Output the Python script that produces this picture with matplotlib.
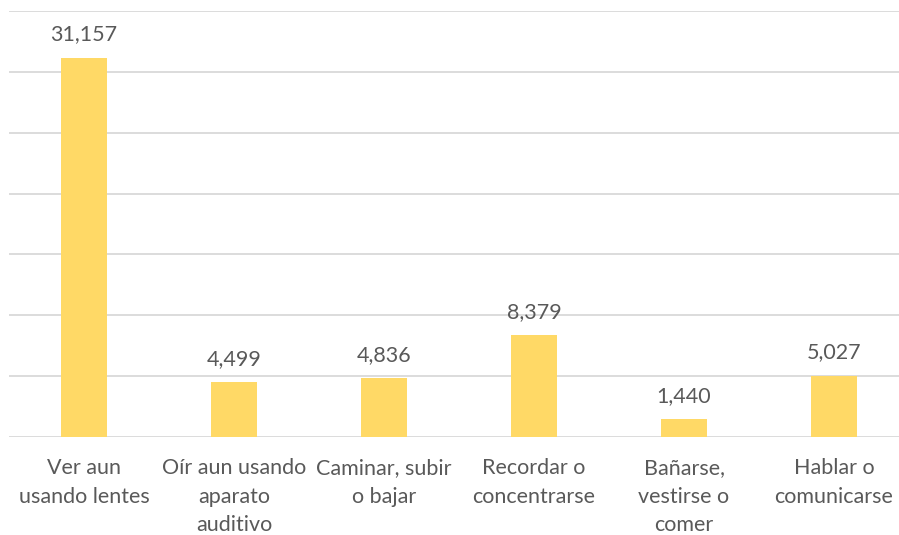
import matplotlib.pyplot as plt
import numpy as np

plt.rcParams['font.family'] = ['Lato', 'DejaVu Sans']

categories = [
    "Ver aun\nusando lentes",
    "Oír aun usando\naparato\nauditivo",
    "Caminar, subir\no bajar",
    "Recordar o\nconcentrarse",
    "Bañarse,\nvestirse o\ncomer",
    "Hablar o\ncomunicarse",
]
values = [31157, 4499, 4836, 8379, 1440, 5027]

text_color = "#595959"
bar_color = "#FFD966"

fig = plt.figure(figsize=(8.99, 5.35), dpi=100)
ax = fig.add_axes([9 / 899, 1 - 437 / 535, 890 / 899, 426 / 535])

x = np.arange(len(categories))
ax.bar(x, values, width=0.31, color=bar_color, zorder=3)

for xi, v in zip(x, values):
    ax.text(xi, v + 1100, f"{v:,}", ha="center", va="bottom",
            fontsize=15.5, color=text_color)

ax.set_xlim(-0.5, 5.433)
ax.set_ylim(0, 35000)
ax.set_yticks(np.arange(0, 35001, 5000))
ax.set_yticklabels([])
ax.tick_params(axis="y", length=0)
ax.grid(axis="y", color="#D9D9D9", linewidth=1.3, zorder=0)
ax.set_xticks(x)
ax.set_xticklabels(categories, fontsize=15.5, color=text_color, linespacing=1.55)
ax.tick_params(axis="x", length=0, pad=15)
for s in ax.spines.values():
    s.set_visible(False)

fig.savefig("out.png", dpi=100)
